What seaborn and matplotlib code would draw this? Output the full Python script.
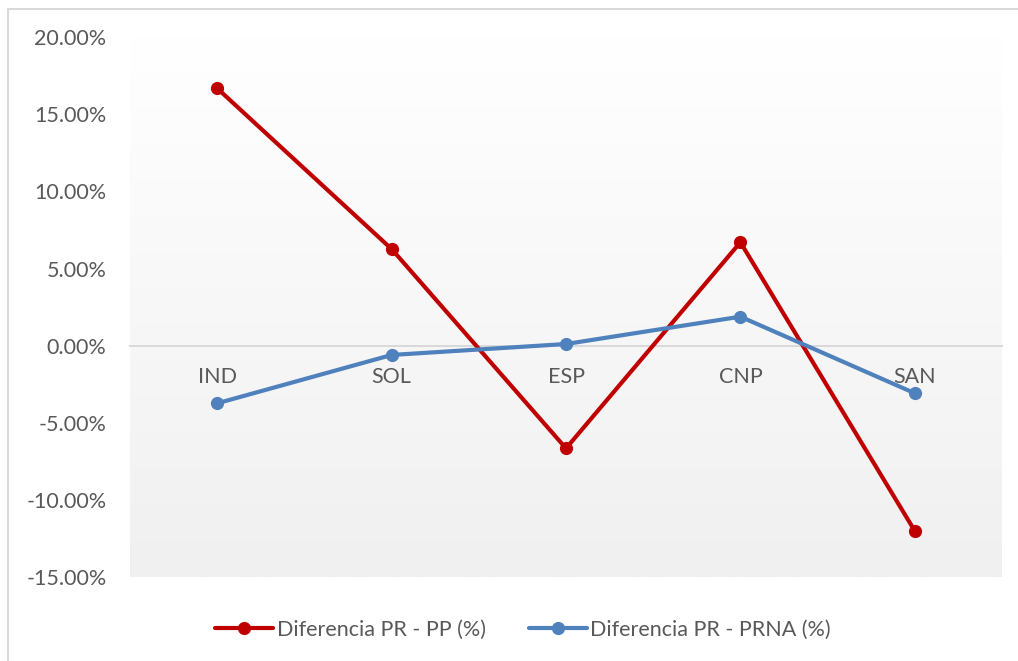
import numpy as np
import pandas as pd
import matplotlib
matplotlib.use("Agg")
import matplotlib.pyplot as plt
from matplotlib.patches import Rectangle
from matplotlib.ticker import FuncFormatter, MultipleLocator
import seaborn as sns

# Data
categories = ["IND", "SOL", "ESP", "CNP", "SAN"]
diff_pr_pp = [16.67, 6.26, -6.65, 6.70, -12.00]
diff_pr_prna = [-3.73, -0.60, 0.11, 1.88, -3.08]
series_names = ["Diferencia PR - PP (%)", "Diferencia PR - PRNA (%)"]

df = pd.DataFrame({
    "cat": categories * 2,
    "value": diff_pr_pp + diff_pr_prna,
    "series": [series_names[0]] * 5 + [series_names[1]] * 5,
})

sns.set_theme(style="white")
plt.rcParams["font.family"] = ["Lato", "DejaVu Sans"]

text_color = "#595959"
fs = 15.5
palette = {series_names[0]: "#C00000", series_names[1]: "#4F81BD"}

fig = plt.figure(figsize=(10.18, 6.61), dpi=100)
ax = fig.add_axes([130 / 1018, 1 - 577.3 / 661, 872 / 1018, (577.3 - 36.9) / 661])

# Vertical gradient in the plot area: white at the top, light grey at the bottom
grad = np.linspace(1.0, 0.0, 256).reshape(-1, 1)
top_c = np.array([1.0, 1.0, 1.0])
bot_c = np.array([0xF0, 0xF0, 0xF0]) / 255.0
img = grad[..., None] * top_c + (1 - grad[..., None]) * bot_c
ax.imshow(img, extent=[0, 1, 0, 1], transform=ax.transAxes, aspect="auto", zorder=0)

sns.lineplot(
    data=df, x="cat", y="value", hue="series", palette=palette,
    marker="o", markersize=9.5, markeredgewidth=0, linewidth=3.0,
    sort=False, ax=ax, zorder=3,
)

ax.set_xlim(-0.5, 4.5)
ax.set_ylim(-15, 20)
ax.yaxis.set_major_locator(MultipleLocator(5))
ax.yaxis.set_major_formatter(FuncFormatter(lambda v, p: f"{v:.2f}%"))
ax.set_xlabel("")
ax.set_ylabel("")

for s in ["top", "right", "left"]:
    ax.spines[s].set_visible(False)
ax.spines["bottom"].set_position(("data", 0))
ax.spines["bottom"].set_color("#D9D9D9")
ax.spines["bottom"].set_linewidth(1.4)
ax.spines["bottom"].set_zorder(1)

ax.tick_params(axis="y", length=0, pad=17, labelsize=fs, labelcolor=text_color)
ax.tick_params(axis="x", length=0, pad=15, labelsize=fs, labelcolor=text_color)
ax.grid(False)

# Legend below the plot
handles, labels = ax.get_legend_handles_labels()
ax.legend(
    handles, labels, loc="center", bbox_to_anchor=(523 / 1018, 1 - 630 / 661),
    bbox_transform=fig.transFigure, ncol=2, frameon=False, fontsize=fs,
    labelcolor=text_color, handlelength=2.7, handletextpad=0.15, columnspacing=2.0,
)

# Chart-area border
fig.patches.append(Rectangle(
    (8 / 1018, -0.1), 1.2, 1 - 8.5 / 661 + 0.1, transform=fig.transFigure,
    fill=False, edgecolor="#D9D9D9", linewidth=1.5, clip_on=False,
))

fig.savefig("out.png", dpi=100)
